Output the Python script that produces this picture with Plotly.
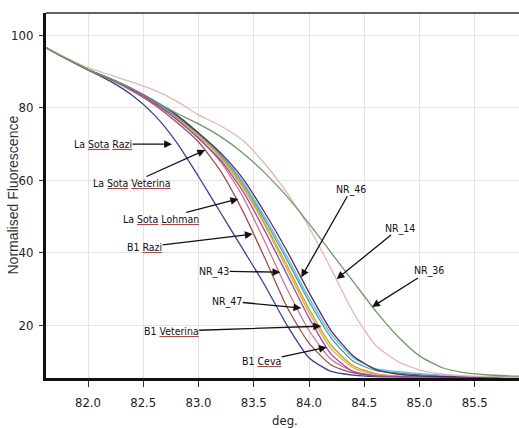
import plotly.graph_objects as go

# temperature grid (deg.)
deg = [81.62, 81.8, 82.0, 82.2, 82.4, 82.6, 82.8, 83.0, 83.2, 83.4, 83.6, 83.8,
       84.0, 84.2, 84.4, 84.6, 84.8, 85.0, 85.2, 85.4, 85.6, 85.8, 85.9]

# Normalised fluorescence per sample
la_sota_razi = [96.5, 93.6, 90.4, 87.3, 83.4, 78.0, 70.5, 61.0, 51.0, 41.0, 31.0, 20.0,
                11.0, 7.2, 6.2, 5.8, 5.7, 5.6, 5.6, 5.5, 5.5, 5.5, 5.5]
b1_razi = [96.5, 93.6, 90.4, 87.8, 84.6, 80.8, 76.0, 70.5, 62.5, 51.5, 38.5, 25.0,
           15.0, 9.0, 6.8, 6.0, 5.8, 5.7, 5.6, 5.6, 5.5, 5.5, 5.5]
nr_43 = [96.5, 93.6, 90.4, 87.8, 84.8, 81.2, 76.8, 71.8, 65.0, 55.5, 43.0, 30.0,
         18.5, 10.5, 7.2, 6.1, 5.8, 5.7, 5.6, 5.6, 5.5, 5.5, 5.5]
b1_veterina = [96.5, 93.6, 90.5, 88.0, 85.0, 81.5, 77.3, 72.5, 66.5, 58.5, 48.0, 36.5,
               24.5, 14.5, 8.8, 6.6, 5.9, 5.7, 5.6, 5.6, 5.5, 5.5, 5.5]
b1_ceva = [96.5, 93.6, 90.5, 88.0, 85.0, 81.4, 77.0, 72.2, 66.0, 58.0, 47.5, 35.5,
           23.5, 13.5, 8.2, 6.4, 5.9, 5.7, 5.6, 5.6, 5.5, 5.5, 5.5]
la_sota_lohman = [96.5, 93.6, 90.5, 88.0, 85.1, 81.7, 77.6, 72.8, 67.0, 59.2, 49.0, 38.0,
                  26.5, 16.5, 10.0, 7.5, 6.8, 6.3, 6.0, 5.8, 5.7, 5.6, 5.6]
nr_47 = [96.5, 93.6, 90.5, 88.0, 85.1, 81.8, 77.8, 73.0, 67.3, 59.6, 49.8, 39.0,
         27.5, 17.5, 11.0, 8.0, 7.2, 6.6, 6.2, 5.9, 5.7, 5.6, 5.6]
la_sota_veterina = [96.5, 93.6, 90.5, 87.9, 84.9, 81.3, 76.8, 71.5, 65.5, 57.0, 46.0, 34.0,
                    22.0, 12.0, 7.2, 6.0, 5.8, 5.7, 5.6, 5.6, 5.5, 5.5, 5.5]
nr_46 = [96.5, 93.6, 90.5, 88.0, 85.2, 81.9, 78.0, 73.0, 67.5, 60.5, 51.0, 40.5,
         29.0, 18.5, 11.5, 7.8, 6.5, 6.0, 5.8, 5.7, 5.6, 5.6, 5.5]
nr_14 = [96.5, 93.8, 91.0, 89.0, 87.0, 84.8, 81.8, 78.0, 75.0, 71.0, 64.5, 56.5,
         47.0, 35.5, 23.5, 14.5, 10.0, 7.6, 6.5, 6.0, 5.8, 5.6, 5.6]
nr_36 = [96.5, 93.6, 90.5, 88.0, 85.2, 81.8, 78.5, 75.5, 72.0, 67.5, 62.0, 55.5,
         48.0, 40.0, 32.0, 24.0, 17.0, 11.5, 8.3, 6.9, 6.3, 6.0, 5.9]

series = [
    ("La Sota Razi", la_sota_razi, "#3d3d99"),
    ("B1 Razi", b1_razi, "#a0504a"),
    ("NR_43", nr_43, "#d07888"),
    ("B1 Veterina", b1_veterina, "#e0902a"),
    ("B1 Ceva", b1_ceva, "#c8c020"),
    ("La Sota Lohman", la_sota_lohman, "#3aa0a8"),
    ("NR_47", nr_47, "#70b8e8"),
    ("La Sota Veterina", la_sota_veterina, "#a040c0"),
    ("NR_46", nr_46, "#503060"),
    ("NR_14", nr_14, "#e8b4b4"),
    ("NR_36", nr_36, "#6d9b63"),
]

x_ticks = [82.0, 82.5, 83.0, 83.5, 84.0, 84.5, 85.0, 85.5]
y_ticks = [20, 40, 60, 80, 100]

fig = go.Figure()
for name, vals, col in series:
    fig.add_trace(go.Scatter(x=deg, y=vals, mode="lines", name=name,
                             line=dict(color=col, width=1.3, shape="spline", smoothing=0.6)))


def sq(word):
    # spell-check style underline (red), text itself stays dark
    return (f'<span style="text-decoration:underline wavy;color:#e03030">'
            f'<span style="color:#111">{word}</span></span>')


# label annotations: (text, arrow tip x, arrow tip y, text offset px)
labels = [
    (f"La {sq('Sota')} {sq('Razi')}", 82.76, 69.9, -69, 0),
    (f"La {sq('Sota')} {sq('Veterina')}", 83.06, 68.3, -73, 33),
    (f"La {sq('Sota')} {sq('Lohman')}", 83.36, 54.8, -77, 20),
    (f"B1 {sq('Razi')}", 83.49, 45.1, -108, 13),
    ("NR_43", 83.74, 34.6, -66, -1),
    ("NR_47", 83.93, 24.7, -74, -7),
    (f"B1 {sq('Veterina')}", 84.11, 19.7, -150, 5),
    (f"B1 {sq('Ceva')}", 84.16, 13.9, -65, 14),
    ("NR_46", 83.93, 33.2, 50, -88),
    ("NR_14", 84.25, 32.7, 63, -51),
    ("NR_36", 84.57, 25.0, 57, -36),
]
narrow = "DejaVu Sans Condensed, Liberation Sans Narrow, Arial Narrow, Liberation Sans, Arial"
lab_font = dict(family=narrow, size=10.5, color="#111")
for t, x, y, ax, ay in labels:
    fig.add_annotation(x=x, y=y, ax=ax, ay=ay, text=t, showarrow=True,
                       arrowhead=2, arrowsize=1.2, arrowwidth=1.3, arrowcolor="#111",
                       font=lab_font, borderpad=0, standoff=0)

tick_font = dict(family=narrow, size=13, color="#222")
fig.update_layout(
    width=519, height=428,
    margin=dict(l=46, r=0, t=13, b=50),
    paper_bgcolor="white", plot_bgcolor="white",
    showlegend=False,
    xaxis=dict(range=[81.62, 85.9], tickvals=x_ticks, ticktext=[f"{v:.1f}" for v in x_ticks],
               showgrid=True, gridcolor="#e4e4e4", gridwidth=1, zeroline=False,
               showline=True, linecolor="#111", linewidth=3,
               ticks="outside", ticklen=6, tickcolor="#333", tickwidth=1,
               tickfont=tick_font, ticklabelstandoff=4),
    yaxis=dict(range=[5.4, 106.1], tickvals=y_ticks, ticktext=[str(v) for v in y_ticks],
               showgrid=True, gridcolor="#e4e4e4", gridwidth=1, zeroline=False,
               showline=True, linecolor="#111", linewidth=3,
               ticks="outside", ticklen=4, tickcolor="#333", tickwidth=1,
               tickfont=tick_font, ticklabelstandoff=3),
)
# axis titles
fig.add_annotation(xref="paper", yref="paper", x=(285 - 46) / 473, y=(378 - 420) / 365,
                   text="deg.", showarrow=False, xanchor="center", yanchor="middle",
                   font=dict(family=narrow, size=13, color="#222"))
fig.add_annotation(xref="paper", yref="paper", x=(12 - 46) / 473, y=0.5, textangle=-90,
                   text="Normalised Fluorescence", showarrow=False, xanchor="center", yanchor="middle",
                   font=dict(family="Liberation Sans, Arial", size=14, color="#333"))
fig.add_shape(type="line", xref="paper", yref="paper", x0=0, x1=1, y0=1, y1=1,
              line=dict(color="#606060", width=2))

fig.write_html("out.html")
